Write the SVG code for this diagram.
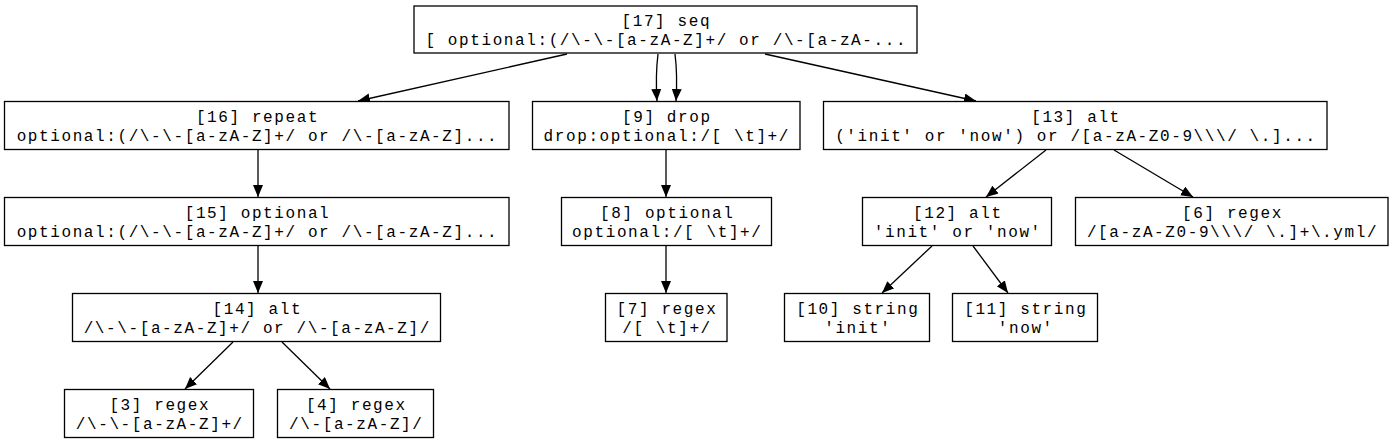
<svg xmlns="http://www.w3.org/2000/svg" width="1393" height="443" viewBox="0 0 1393 443">
<style>
.n rect{fill:#fff;stroke:#000;stroke-width:1.3}
.n text{font-family:"Liberation Mono","Courier New",monospace;font-size:16px;letter-spacing:1.6px;text-anchor:middle;fill:#000}
.e path{fill:none;stroke:#000;stroke-width:1.3}
</style>
<defs>
<marker id="ah" markerUnits="userSpaceOnUse" markerWidth="14" markerHeight="12" refX="12" refY="5" orient="auto">
<path d="M0,0 L12,5 L0,10 Z" fill="#000"/>
</marker>
</defs>
<rect width="1393" height="443" fill="#fff"/>
<g class="e" id="edges">
<path d="M567,54 L358,101" marker-end="url(#ah)"/>
<path d="M658,54 C656,70 656,85 657,101" marker-end="url(#ah)"/>
<path d="M675,54 C677,70 677,85 676,101" marker-end="url(#ah)"/>
<path d="M765,54 L976,101" marker-end="url(#ah)"/>
<path d="M258,150 L258,197" marker-end="url(#ah)"/>
<path d="M258,246 L258,293" marker-end="url(#ah)"/>
<path d="M233,342 L185,389" marker-end="url(#ah)"/>
<path d="M282,342 L330,389" marker-end="url(#ah)"/>
<path d="M666,150 L666,197" marker-end="url(#ah)"/>
<path d="M666,246 L666,293" marker-end="url(#ah)"/>
<path d="M1046,150 L986,197" marker-end="url(#ah)"/>
<path d="M1114,150 L1193,197" marker-end="url(#ah)"/>
<path d="M932,246 L882,293" marker-end="url(#ah)"/>
<path d="M973,246 L1008,293" marker-end="url(#ah)"/>
</g>
<g class="n" id="n17"><rect x="414" y="6" width="503" height="47"/><text x="666.3" y="26">[17] seq</text><text x="666.3" y="45">[ optional:(/\-\-[a-zA-Z]+/ or /\-[a-zA-...</text></g>
<g class="n" id="n16"><rect x="4.5" y="101.5" width="504.5" height="48"/><text x="257.5" y="122">[16] repeat</text><text x="257.5" y="141">optional:(/\-\-[a-zA-Z]+/ or /\-[a-zA-Z]...</text></g>
<g class="n" id="n9"><rect x="532.5" y="101.5" width="267.5" height="48"/><text x="666.8" y="122">[9] drop</text><text x="666.8" y="141">drop:optional:/[ \t]+/</text></g>
<g class="n" id="n13"><rect x="823.5" y="101.5" width="503.5" height="48"/><text x="1076" y="122">[13] alt</text><text x="1076" y="141">('init' or 'now') or /[a-zA-Z0-9\\\/ \.]...</text></g>
<g class="n" id="n15"><rect x="4.5" y="197.5" width="504.5" height="48"/><text x="257.5" y="218">[15] optional</text><text x="257.5" y="237">optional:(/\-\-[a-zA-Z]+/ or /\-[a-zA-Z]...</text></g>
<g class="n" id="n8"><rect x="561.5" y="197.5" width="210" height="48"/><text x="667.3" y="218">[8] optional</text><text x="667.3" y="237">optional:/[ \t]+/</text></g>
<g class="n" id="n12"><rect x="862.5" y="197.5" width="189" height="48"/><text x="957.8" y="218">[12] alt</text><text x="957.8" y="237">'init' or 'now'</text></g>
<g class="n" id="n6"><rect x="1075.5" y="197.5" width="312.5" height="48"/><text x="1232.5" y="218">[6] regex</text><text x="1232.5" y="237">/[a-zA-Z0-9\\\/ \.]+\.yml/</text></g>
<g class="n" id="n14"><rect x="72.5" y="293.5" width="368" height="48"/><text x="257.3" y="314">[14] alt</text><text x="257.3" y="333">/\-\-[a-zA-Z]+/ or /\-[a-zA-Z]/</text></g>
<g class="n" id="n7"><rect x="605.5" y="293.5" width="121.5" height="48"/><text x="667" y="314">[7] regex</text><text x="667" y="333">/[ \t]+/</text></g>
<g class="n" id="n10"><rect x="784.5" y="293.5" width="145" height="48"/><text x="857.8" y="314">[10] string</text><text x="857.8" y="333">'init'</text></g>
<g class="n" id="n11"><rect x="952.5" y="293.5" width="145" height="48"/><text x="1025.8" y="314">[11] string</text><text x="1025.8" y="333">'now'</text></g>
<g class="n" id="n3"><rect x="64.5" y="389.5" width="189" height="48"/><text x="159.8" y="410">[3] regex</text><text x="159.8" y="429">/\-\-[a-zA-Z]+/</text></g>
<g class="n" id="n4"><rect x="277.5" y="389.5" width="156" height="48"/><text x="356.3" y="410">[4] regex</text><text x="356.3" y="429">/\-[a-zA-Z]/</text></g>
</svg>
